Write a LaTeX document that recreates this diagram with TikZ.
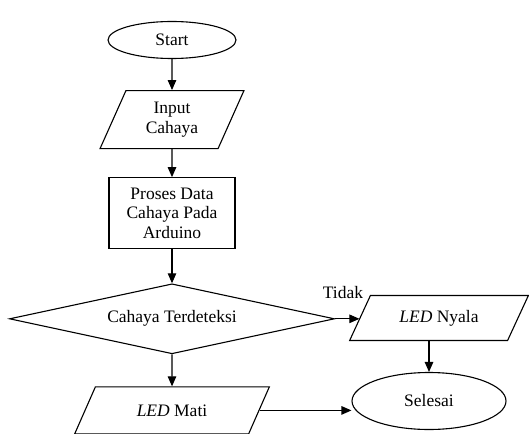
\documentclass[tikz,border=0pt]{standalone}
\usepackage{fontspec}
\setmainfont{Liberation Serif}
\usetikzlibrary{positioning,shapes.geometric,arrows.meta}

\begin{document}
\begin{tikzpicture}[x=1pt, y=-1pt,
    every node/.style={font=\fontsize{17.5}{19.5}\selectfont, inner sep=0pt},
    terminal/.style={ellipse, draw=black, line width=1.1pt},
    io/.style={trapezium, trapezium stretches=true, draw=black, line width=1.1pt, align=center},
    process/.style={rectangle, draw=black, line width=1.1pt, align=center},
    cond/.style={diamond, aspect=4.6, draw=black, line width=1.1pt},
    arrow/.style={-{Triangle[length=10pt,width=8.5pt]}, line width=1.1pt}
]
    \useasboundingbox (0,0) rectangle (529,433);

    \node[terminal, minimum width=128pt, minimum height=37pt] (start) at (172,40) {Start};

    \node[io, trapezium left angle=67, trapezium right angle=113,
          minimum width=144pt, minimum height=58pt, below=31pt of start] (input) {Input\\Cahaya};

    \node[process, minimum width=126pt, minimum height=71pt, below=28pt of input] (proses) {
        Proses Data\\
        Cahaya Pada\\
        Arduino
    };

    \node[cond, minimum width=325pt, minimum height=70pt, below=34pt of proses] (cek) {Cahaya Terdeteksi};

    \node[io, trapezium left angle=51, trapezium right angle=129,
          minimum width=196pt, minimum height=47pt, below=32pt of cek] (mati) {\textit{LED} Mati};

    \node[io, trapezium left angle=53, trapezium right angle=127,
          minimum width=179pt, minimum height=45pt] (nyala) at (439,318) {\textit{LED} Nyala};

    \node[terminal, minimum width=154pt, minimum height=57pt] (selesai) at (429,401) {Selesai};

    \node (tidak) at (343,293) {Tidak};

    \draw[arrow] (start) -- (input);
    \draw[arrow] (input) -- (proses);
    \draw[arrow] (proses) -- (cek);
    \draw[arrow] (cek) -- (mati);
    \draw[arrow] (cek.east) -- (cek.east -| nyala.west);
    \draw[arrow] (nyala.south -| selesai.north) -- (selesai.north);
    \draw[arrow] (mati.east) -- (mati.east -| selesai.west);
\end{tikzpicture}
\end{document}
